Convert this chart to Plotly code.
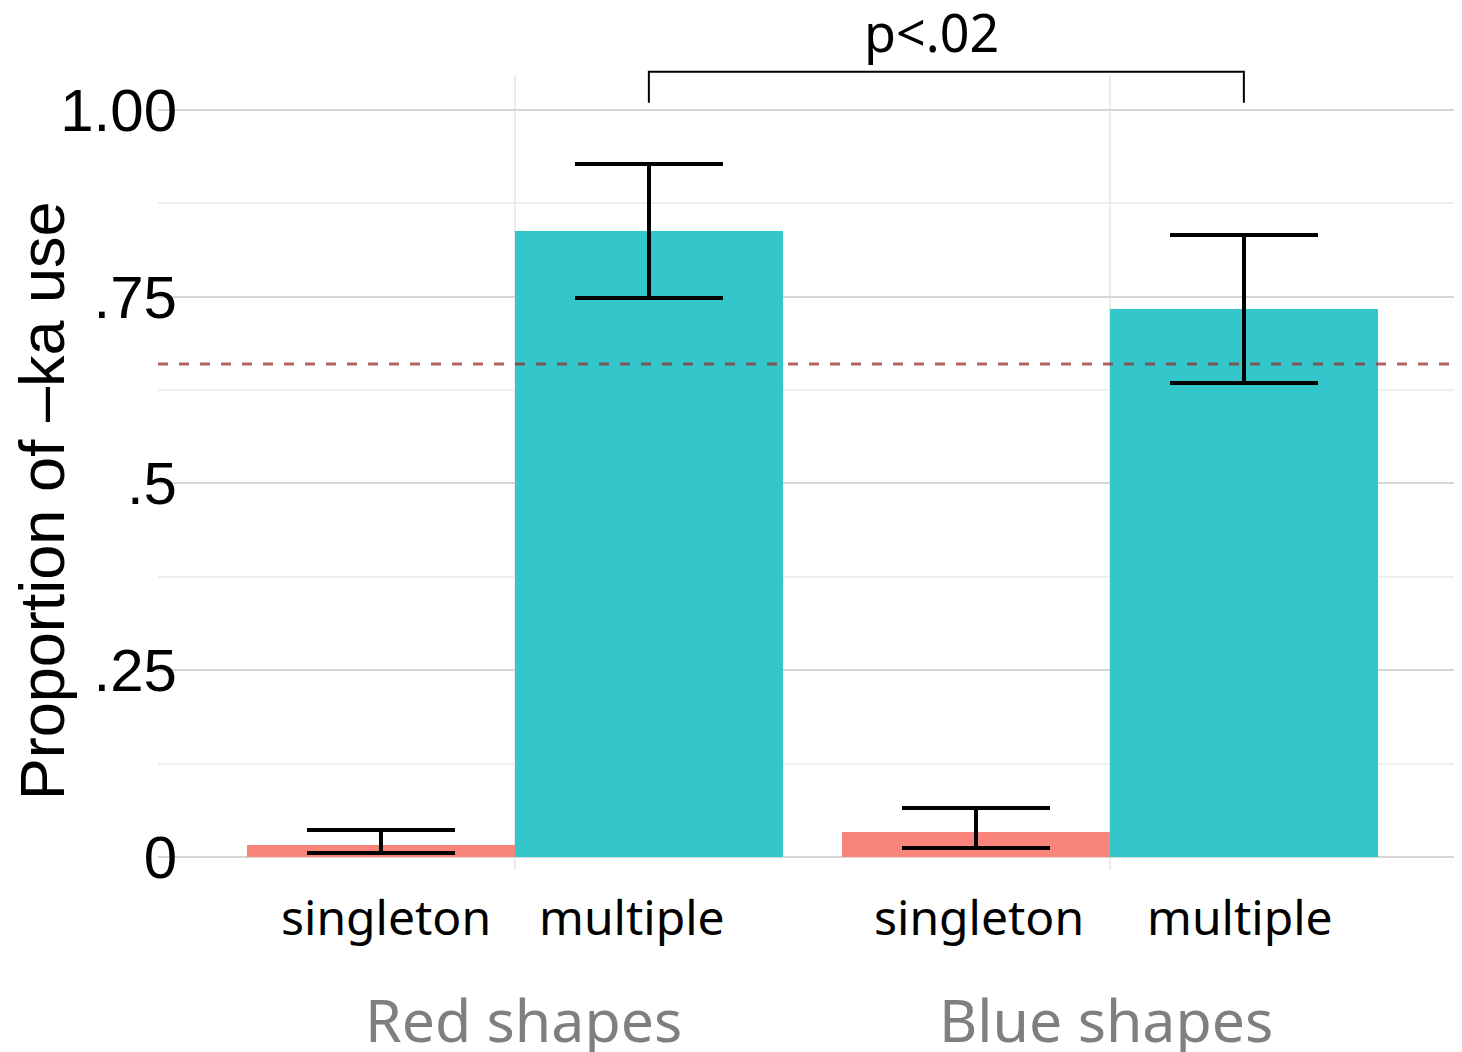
import plotly.graph_objects as go

groups = ["Red shapes", "Blue shapes"]
conditions = ["singleton", "multiple"]
singleton_vals = [0.016, 0.034]
singleton_hi = [0.036, 0.066]
singleton_lo = [0.005, 0.012]
multiple_vals = [0.838, 0.733]
multiple_hi = [0.928, 0.833]
multiple_lo = [0.748, 0.635]
chance_level = 0.66
y_tickvals = [0, 0.25, 0.5, 0.75, 1.0]
y_ticktext = ["0", ".25", ".5", ".75", "1.00"]
p_label = "p<.02"

RED = "#F8847C"
TEAL = "#33C6CA"
DODGE = 0.225
BARW = 0.45

gx = [i + 1 for i in range(len(groups))]
xs_single = [g - DODGE for g in gx]
xs_multi = [g + DODGE for g in gx]

fig = go.Figure()
fig.add_trace(go.Bar(
    x=xs_single, y=singleton_vals, width=BARW, marker=dict(color=RED, line=dict(width=0)),
    error_y=dict(type="data", symmetric=False,
                 array=[h - v for h, v in zip(singleton_hi, singleton_vals)],
                 arrayminus=[v - l for v, l in zip(singleton_vals, singleton_lo)],
                 color="black", thickness=4, width=74),
    showlegend=False, hoverinfo="skip"))
fig.add_trace(go.Bar(
    x=xs_multi, y=multiple_vals, width=BARW, marker=dict(color=TEAL, line=dict(width=0)),
    error_y=dict(type="data", symmetric=False,
                 array=[h - v for h, v in zip(multiple_hi, multiple_vals)],
                 arrayminus=[v - l for v, l in zip(multiple_vals, multiple_lo)],
                 color="black", thickness=4, width=74),
    showlegend=False, hoverinfo="skip"))

# chance line
fig.add_shape(type="line", xref="paper", x0=0, x1=1, yref="y", y0=chance_level, y1=chance_level,
              line=dict(color="rgba(150,50,50,0.75)", width=3, dash="10px,11px"), layer="above")

# significance bracket
bx0, bx1 = xs_multi[0], xs_multi[1]
fig.add_shape(type="path", xref="x", yref="paper",
              path=f"M {bx0} 0.965 L {bx0} 1.004 L {bx1} 1.004 L {bx1} 0.965",
              line=dict(color="black", width=2), layer="above")

annotations = []
annotations.append(dict(x=(bx0 + bx1) / 2, xref="x", xshift=-15, y=1.055, yref="paper",
                        text=p_label, showarrow=False, xanchor="center", yanchor="middle",
                        font=dict(family="Noto Sans", size=52, color="black")))
label_shifts = [[5, -17], [3, -4]]
group_shifts = [8, -4]
for gi, g in enumerate(gx):
    for ci, (cond, xpos) in enumerate(zip(conditions, [g - DODGE, g + DODGE])):
        annotations.append(dict(x=xpos, xref="x", xshift=label_shifts[gi][ci], y=-0.058, yref="paper",
                                text=cond, showarrow=False, xanchor="center", yanchor="middle",
                                font=dict(family="Noto Sans", size=48, color="black")))
    annotations.append(dict(x=g, xref="x", xshift=group_shifts[gi], y=-0.187, yref="paper",
                            text=groups[gi], showarrow=False, xanchor="center", yanchor="middle",
                            font=dict(family="Noto Sans", size=59, color="#7f7f7f")))
annotations.append(dict(x=-0.089, xref="paper", y=0.465, yref="paper", text="Proportion of \u2013ka use",
                        textangle=-90, showarrow=False, xanchor="center", yanchor="middle",
                        font=dict(family="Liberation Sans, Arial", size=63, color="black")))

fig.update_layout(
    width=1462, height=1052,
    margin=dict(l=150, r=8, t=67, b=190, pad=0),
    paper_bgcolor="white", plot_bgcolor="white",
    bargap=0, barmode="overlay",
    annotations=annotations,
    xaxis=dict(range=[0.4, 2.5916], tickvals=gx, showticklabels=False, ticks="",
               showgrid=True, gridcolor="#ebebeb", gridwidth=1.5, zeroline=False, showline=False),
    yaxis=dict(range=[-0.0174, 1.0468], tickvals=y_tickvals, ticktext=y_ticktext, ticks="",
               showgrid=True, gridcolor="#d6d6d6", gridwidth=2, zeroline=False, showline=False,
               tickfont=dict(family="Liberation Sans, Arial", size=60, color="black"),
               ticklabelstandoff=-20,
               minor=dict(tickvals=[0.125, 0.375, 0.625, 0.875], showgrid=True,
                          gridcolor="#efefef", gridwidth=1.5, ticks="")),
)

fig.write_html("out.html")
